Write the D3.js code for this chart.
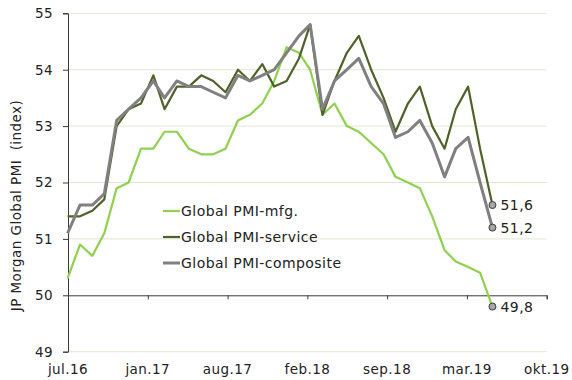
<!DOCTYPE html>
<html>
<head>
<meta charset="utf-8">
<script src="https://cdn.jsdelivr.net/npm/d3@7/dist/d3.min.js"></script>
<style>
  html, body { margin: 0; padding: 0; background: #fff; }
  svg { display: block; font-family: "DejaVu Sans", Verdana, sans-serif; }
  svg text { letter-spacing: 0.45px; }
</style>
</head>
<body>
<svg id="chart" width="572" height="380"></svg>
<script>
// Monthly observations (month-end), June 2016 – May 2019
const months = [
  "2016-06","2016-07","2016-08","2016-09","2016-10","2016-11","2016-12",
  "2017-01","2017-02","2017-03","2017-04","2017-05","2017-06","2017-07",
  "2017-08","2017-09","2017-10","2017-11","2017-12",
  "2018-01","2018-02","2018-03","2018-04","2018-05","2018-06","2018-07",
  "2018-08","2018-09","2018-10","2018-11","2018-12",
  "2019-01","2019-02","2019-03","2019-04","2019-05"
];
const mfg = [
  50.3, 50.9, 50.7, 51.1, 51.9, 52.0, 52.6,
  52.6, 52.9, 52.9, 52.6, 52.5, 52.5, 52.6,
  53.1, 53.2, 53.4, 53.8, 54.4,
  54.3, 54.0, 53.2, 53.4, 53.0, 52.9, 52.7,
  52.5, 52.1, 52.0, 51.9, 51.4,
  50.8, 50.6, 50.5, 50.4, 49.8
];
const service = [
  51.4, 51.4, 51.5, 51.7, 53.0, 53.3, 53.4,
  53.9, 53.3, 53.7, 53.7, 53.9, 53.8, 53.6,
  54.0, 53.8, 54.1, 53.7, 53.8,
  54.2, 54.8, 53.2, 53.8, 54.3, 54.6, 54.0,
  53.5, 52.9, 53.4, 53.7, 53.0,
  52.6, 53.3, 53.7, 52.6, 51.6
];
const composite = [
  51.1, 51.6, 51.6, 51.8, 53.1, 53.3, 53.5,
  53.8, 53.5, 53.8, 53.7, 53.7, 53.6, 53.5,
  53.9, 53.8, 53.9, 54.0, 54.3,
  54.6, 54.8, 53.3, 53.8, 54.0, 54.2, 53.7,
  53.4, 52.8, 52.9, 53.1, 52.7,
  52.1, 52.6, 52.8, 52.0, 51.2
];
const seriesNames = ["Global PMI-mfg.", "Global PMI-service", "Global PMI-composite"];
const seriesColors = ["#8fd14f", "#4f6228", "#808080"];
const seriesWidths = [2.2, 2.2, 3];
const xTickLabels = ["jul.16", "jan.17", "aug.17", "feb.18", "sep.18", "mar.19", "okt.19"];
const yTicks = [49, 50, 51, 52, 53, 54, 55];
const yTitle = "JP Morgan Global PMI  (index)";

// ---- layout ----
const svg = d3.select("#chart");
const plotLeft = 68, plotRight = 546.7, plotTop = 13.3, plotBottom = 351.7;

// date axis: starts 1 Jul 2016, major unit 200 days
const axisStart = new Date(2016, 6, 1);
const tickDates = xTickLabels.map((_, i) => d3.timeDay.offset(axisStart, 200 * i));
const x = d3.scaleTime()
  .domain([axisStart, tickDates[tickDates.length - 1]])
  .range([plotLeft, plotRight]);
const y = d3.scaleLinear().domain([49, 55]).range([plotBottom, plotTop]);

const monthEnd = m => {
  const [yy, mm] = m.split("-").map(Number);
  return new Date(yy, mm, 0);
};
const dates = months.map(monthEnd);
const allSeries = [mfg, service, composite];

// gridlines
svg.append("g")
  .selectAll("line")
  .data(yTicks.filter(v => v !== 50))
  .join("line")
  .attr("x1", plotLeft).attr("x2", plotRight)
  .attr("y1", d => y(d)).attr("y2", d => y(d))
  .attr("stroke", "#e3e9d0").attr("stroke-width", 1);

// y axis
const yAxis = d3.axisLeft(y).tickValues(yTicks).tickSize(5).tickPadding(10).tickFormat(d3.format("d"));
const gy = svg.append("g").attr("transform", `translate(${plotLeft},0)`).call(yAxis);
gy.select(".domain").attr("stroke", "#3a3a3a");
gy.selectAll(".tick line").attr("stroke", "#3a3a3a");
gy.selectAll(".tick text").attr("fill", "#222").style("font-size", "13.5px")
  .style("font-family", "'DejaVu Sans', Verdana, sans-serif");

// x axis: line crossing at 50, labels along the bottom
const xAxis = d3.axisBottom(x).tickValues(tickDates).tickSize(4).tickFormat(() => "");
const gx = svg.append("g").attr("transform", `translate(0,${y(50)})`).call(xAxis);
gx.select(".domain").attr("stroke", "#3a3a3a");
gx.selectAll(".tick line").attr("stroke", "#3a3a3a");

svg.append("g")
  .selectAll("text")
  .data(tickDates)
  .join("text")
  .attr("x", d => x(d))
  .attr("y", 374)
  .attr("text-anchor", "middle")
  .attr("fill", "#222")
  .style("font-size", "13.5px")
  .text((d, i) => xTickLabels[i]);

// y axis title
svg.append("text")
  .attr("transform", `translate(20.5,${(98 + 313) / 2}) rotate(-90)`)
  .attr("text-anchor", "middle")
  .attr("fill", "#222")
  .style("font-size", "13.5px")
  .style("white-space", "pre")
  .text(yTitle);

// series lines
const line = d3.line()
  .x((d, i) => x(dates[i]))
  .y(d => y(d));

svg.append("g")
  .selectAll("path")
  .data(allSeries)
  .join("path")
  .attr("d", d => line(d))
  .attr("fill", "none")
  .attr("stroke", (d, i) => seriesColors[i])
  .attr("stroke-width", (d, i) => seriesWidths[i])
  .attr("stroke-linejoin", "round");

// end-point markers and value labels
const lastIdx = months.length - 1;
const fmtComma = v => d3.format(".1f")(v).replace(".", ",");
const ends = svg.append("g");
ends.selectAll("circle")
  .data(allSeries)
  .join("circle")
  .attr("cx", x(dates[lastIdx]))
  .attr("cy", d => y(d[lastIdx]))
  .attr("r", 3.5)
  .attr("fill", "#a6a6a6")
  .attr("stroke", "#3a3a3a")
  .attr("stroke-width", 1);
ends.selectAll("text")
  .data(allSeries)
  .join("text")
  .attr("x", x(dates[lastIdx]) + 8)
  .attr("y", d => y(d[lastIdx]))
  .attr("dy", "0.36em")
  .attr("fill", "#222")
  .style("font-size", "14px")
  .text(d => fmtComma(d[lastIdx]));

// legend
const legend = svg.append("g").attr("transform", "translate(163,211)");
const rows = legend.selectAll("g")
  .data(seriesNames)
  .join("g")
  .attr("transform", (d, i) => `translate(0,${i * 26})`);
rows.append("line")
  .attr("x1", 0).attr("x2", 17)
  .attr("stroke", (d, i) => seriesColors[i])
  .attr("stroke-width", (d, i) => seriesWidths[i]);
rows.append("text")
  .attr("x", 18)
  .attr("dy", "0.36em")
  .attr("fill", "#222")
  .style("font-size", "14px")
  .text(d => d);
</script>
</body>
</html>
